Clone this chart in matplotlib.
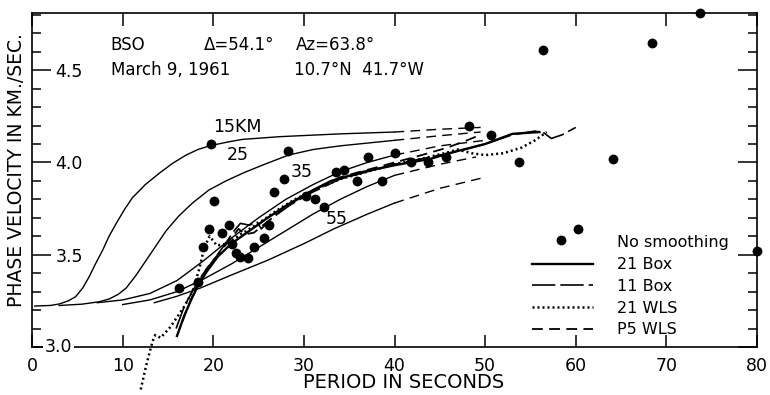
import matplotlib
matplotlib.use('Agg')
import matplotlib.pyplot as plt
from matplotlib.lines import Line2D

# observed phase velocities, no smoothing
dot_x = [16.2, 18.3, 18.9, 19.5, 19.7, 20.1, 21.0, 21.7, 22.1, 22.5, 23.0, 23.8, 24.5, 25.6, 26.1,
         26.7, 27.8, 28.3, 30.2, 31.2, 32.2, 33.5, 34.4, 35.9, 37.1, 38.6, 40.1, 41.8, 43.7, 45.7,
         48.2, 50.7, 53.7, 56.4, 58.4, 60.2, 64.1, 68.4, 73.7, 80.0]
dot_y = [3.32, 3.35, 3.54, 3.64, 4.10, 3.79, 3.62, 3.66, 3.56, 3.51, 3.49, 3.48, 3.54, 3.59, 3.66,
         3.84, 3.91, 4.06, 3.82, 3.80, 3.76, 3.95, 3.96, 3.90, 4.03, 3.90, 4.05, 4.00, 4.00, 4.03,
         4.20, 4.15, 4.00, 4.61, 3.58, 3.64, 4.02, 4.65, 4.81, 3.52]

# theoretical curves for crustal thickness 15..55 km (solid part, then dashed extension)
c15_x = [0.3, 2.0, 3.0, 4.0, 4.8, 5.6, 6.3, 7.0, 7.8, 8.5, 9.3, 10.2, 11.1, 12.5, 14.0, 15.5,
         17.0, 18.3, 19.6, 21.5, 23.2, 27.4, 34.0, 40.0]
c15_y = [3.222, 3.225, 3.233, 3.25, 3.272, 3.32, 3.38, 3.45, 3.525, 3.60, 3.67, 3.745, 3.81,
         3.88, 3.94, 3.995, 4.04, 4.07, 4.09, 4.11, 4.125, 4.14, 4.155, 4.165]
c15_ext_x = [40.0, 45.0, 49.5]
c15_ext_y = [4.165, 4.18, 4.19]

c25_x = [3.0, 5.5, 7.4, 8.5, 9.5, 10.4, 11.5, 12.6, 13.7, 14.8, 16.2, 17.7, 19.5, 21.4, 23.4,
         25.4, 28.3, 31.0, 34.0, 40.0]
c25_y = [3.225, 3.232, 3.245, 3.26, 3.285, 3.32, 3.39, 3.47, 3.55, 3.63, 3.71, 3.78, 3.85, 3.90,
         3.945, 3.985, 4.04, 4.07, 4.09, 4.12]
c25_ext_x = [40.0, 45.0, 49.5]
c25_ext_y = [4.12, 4.145, 4.165]

c35_x = [7.2, 10.0, 13.0, 16.0, 19.0, 22.0, 25.0, 28.0, 31.0, 34.0, 37.0, 40.0]
c35_y = [3.24, 3.255, 3.29, 3.36, 3.47, 3.59, 3.70, 3.80, 3.88, 3.95, 4.00, 4.04]
c35_ext_x = [40.0, 45.0, 50.0]
c35_ext_y = [4.04, 4.09, 4.12]

c45_x = [10.0, 13.0, 16.0, 19.0, 22.0, 25.0, 28.0, 31.0, 34.0, 37.0, 40.0]
c45_y = [3.23, 3.255, 3.30, 3.37, 3.45, 3.54, 3.63, 3.72, 3.80, 3.87, 3.93]
c45_ext_x = [40.0, 45.0, 49.0]
c45_ext_y = [3.93, 3.99, 4.03]

c55_x = [13.5, 16.0, 18.6, 22.0, 26.0, 30.0, 33.3, 37.0, 40.0]
c55_y = [3.24, 3.275, 3.32, 3.39, 3.47, 3.56, 3.64, 3.72, 3.78]
c55_ext_x = [40.0, 45.0, 50.0]
c55_ext_y = [3.78, 3.86, 3.92]

# smoothed observed curves
box21_x = [16.0, 16.8, 17.6, 18.4, 19.3, 20.5, 22.0, 24.0, 26.0, 28.5, 31.0, 33.0, 36.6, 40.0,
           44.0, 46.0, 50.0, 53.0, 56.0]
box21_y = [3.06, 3.17, 3.26, 3.34, 3.41, 3.49, 3.56, 3.63, 3.70, 3.78, 3.85, 3.90, 3.95, 3.985,
           4.02, 4.05, 4.10, 4.155, 4.165]

box11_x = [15.9, 16.8, 17.8, 18.8, 20.0, 21.2, 22.3, 23.0, 24.0, 24.8, 25.3, 26.5, 28.5, 31.0,
           34.0, 37.0, 40.0, 44.0, 47.0, 50.0, 53.0, 55.5, 56.5, 57.3, 58.5, 60.0]
box11_y = [3.10, 3.22, 3.31, 3.39, 3.47, 3.55, 3.63, 3.67, 3.66, 3.68, 3.64, 3.70, 3.77, 3.84,
           3.91, 3.95, 3.99, 4.03, 4.06, 4.10, 4.15, 4.17, 4.16, 4.13, 4.15, 4.19]

wls21_x = [12.0, 12.6, 13.3, 13.6, 14.2, 15.3, 16.8, 17.7, 18.5, 19.0, 19.6, 20.4, 21.5, 23.0,
           25.0, 27.0, 29.0, 31.5, 34.0, 37.0, 40.0, 43.0, 45.5, 47.0, 48.5, 50.0, 52.0, 54.0,
           55.5, 56.8]
wls21_y = [2.77, 2.90, 3.03, 3.065, 3.05, 3.11, 3.22, 3.30, 3.43, 3.54, 3.60, 3.55, 3.56, 3.61,
           3.67, 3.74, 3.80, 3.86, 3.91, 3.95, 3.99, 4.02, 4.05, 4.07, 4.05, 4.04, 4.05, 4.08,
           4.12, 4.165]

p5_x = [16.6, 17.4, 18.2, 19.2, 20.5, 21.8, 22.8, 23.5, 24.5, 25.5, 27.0, 29.0, 31.5, 34.0,
        37.0, 40.0, 43.0, 45.8, 48.0, 49.5]
p5_y = [3.14, 3.24, 3.33, 3.42, 3.50, 3.58, 3.64, 3.61, 3.62, 3.66, 3.72, 3.79, 3.86, 3.92,
        3.96, 4.00, 4.04, 4.08, 4.12, 4.15]

x_ticks = [0, 10, 20, 30, 40, 50, 60, 70, 80]
y_major = [3.0, 3.5, 4.0, 4.5]
y_major_labels = ['', '3.5', '4.0', '4.5']

plt.rcParams['font.family'] = 'DejaVu Sans'
fig = plt.figure(figsize=(7.7, 3.95), dpi=100)
ax = fig.add_axes([32/770, 48/395, 725/770, 334/395])

theo_dash = (0, (7, 4.5))
for cx, cy, ex, ey in [(c15_x, c15_y, c15_ext_x, c15_ext_y),
                       (c25_x, c25_y, c25_ext_x, c25_ext_y),
                       (c35_x, c35_y, c35_ext_x, c35_ext_y),
                       (c45_x, c45_y, c45_ext_x, c45_ext_y),
                       (c55_x, c55_y, c55_ext_x, c55_ext_y)]:
    ax.plot(cx, cy, color='black', lw=1.0)
    ax.plot(ex, ey, color='black', lw=1.0, linestyle=theo_dash)

l_box21, = ax.plot(box21_x, box21_y, color='black', lw=1.7)
l_box11, = ax.plot(box11_x, box11_y, color='black', lw=1.2, linestyle=(0, (14, 3)))
l_wls21, = ax.plot(wls21_x, wls21_y, color='black', lw=1.8, linestyle=(0, (0.8, 1.2)),
                   clip_on=False)
l_p5, = ax.plot(p5_x, p5_y, color='black', lw=1.3, linestyle=(0, (6, 3.5)))

ax.scatter(dot_x, dot_y, s=50, color='black', zorder=5, clip_on=False, linewidths=0)

# curve labels
ax.text(20.0, 4.19, '15KM', fontsize=12.5, ha='left', va='center')
ax.text(21.5, 4.04, '25', fontsize=12.5, ha='left', va='center')
ax.text(28.5, 3.95, '35', fontsize=12.5, ha='left', va='center')
ax.text(32.4, 3.695, '55', fontsize=12.5, ha='left', va='center')

# event information
ax.text(8.7, 4.635, 'BSO', fontsize=12, ha='left', va='center')
ax.text(18.95, 4.635, 'Δ=54.1°', fontsize=12, ha='left', va='center')
ax.text(29.1, 4.635, 'Az=63.8°', fontsize=12, ha='left', va='center')
ax.text(8.7, 4.50, 'March 9, 1961', fontsize=12, ha='left', va='center')
ax.text(28.9, 4.50, '10.7°N  41.7°W', fontsize=12, ha='left', va='center')

ax.set_xlim(0, 80)
ax.set_ylim(3.0, 4.81)
ax.set_xticks(x_ticks)
ax.set_xticklabels([str(t) for t in x_ticks])
ax.set_yticks(y_major)
ax.set_yticklabels(y_major_labels)
ax.set_yticks([3.0 + 0.1 * i for i in range(19)], minor=True)
ax.tick_params(axis='x', which='major', direction='in', length=9, width=1.1, top=True,
               labelsize=12.5, pad=7)
ax.tick_params(axis='y', which='major', direction='in', length=13.5, width=1.1, right=True,
               labelsize=12.5, pad=-17)
ax.tick_params(axis='y', which='minor', direction='in', length=6.5, width=1.1, right=True)
for lab in ax.get_yticklabels():
    lab.set_horizontalalignment('left')
for s in ax.spines.values():
    s.set_linewidth(1.2)

ax.text(1.4, 3.0, '3.0', fontsize=12.5, ha='left', va='center',
        bbox=dict(facecolor='white', edgecolor='none', pad=1.5), zorder=6)

fig.text(17/770, 1 - 170/395, 'PHASE VELOCITY IN KM./SEC.', rotation=90,
         ha='center', va='center', fontsize=13.5)
fig.text(404/770, 1 - 383/395, 'PERIOD IN SECONDS', ha='center', va='center', fontsize=14)

blank = Line2D([], [], linestyle='none')
ax.legend([blank, l_box21, l_box11, l_wls21, l_p5],
          ['No smoothing', '21 Box', '11 Box', '21 WLS', 'P5 WLS'],
          loc='upper left', bbox_to_anchor=(0.69, 0.334), frameon=False, fontsize=11.5,
          handlelength=3.8, handletextpad=1.5, labelspacing=0.42, borderpad=0,
          borderaxespad=0)

fig.savefig('out.png', dpi=100)
